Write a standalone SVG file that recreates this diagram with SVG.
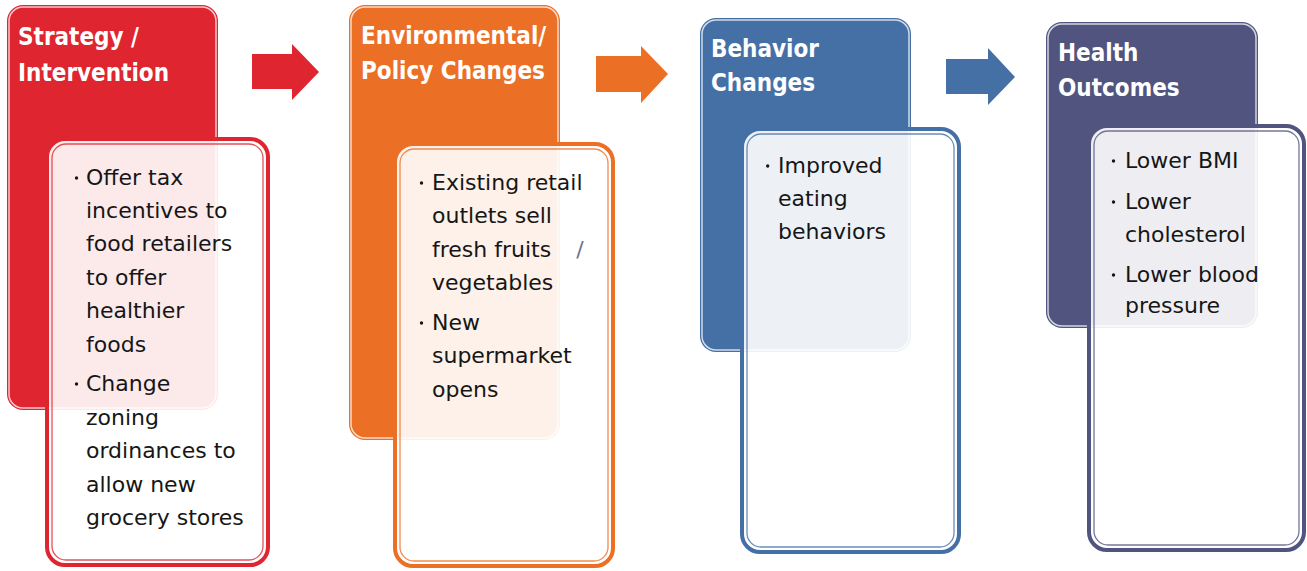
<svg xmlns="http://www.w3.org/2000/svg" width="1307" height="571" viewBox="0 0 1307 571">
<style>
.title{font-family:"DejaVu Sans Condensed","DejaVu Sans",sans-serif;font-weight:bold;font-size:24px;fill:#ffffff}
.body{font-family:"DejaVu Sans","Liberation Sans",sans-serif;font-size:22px;fill:#161616}
.panel{fill:#ffffff;fill-opacity:0.9}
.hl{fill:none;stroke:#ffffff;stroke-opacity:0.75;stroke-width:1.5}
.dot{fill:#161616}
.red{fill:#DF2530}.orange{fill:#EC6F26}.blue{fill:#4570A6}.purple{fill:#51547F}
.sred{stroke:#DF2530}.sorange{stroke:#EC6F26}.sblue{stroke:#4570A6}.spurple{stroke:#51547F}
.outer{fill:none;stroke-width:4}
.inner{fill:none;stroke-width:1.3;stroke-opacity:0.8}
</style>
<rect width="1307" height="571" fill="#ffffff"/>

<g id="node-strategy">
  <rect x="7" y="5" width="211" height="405" rx="16" class="red"/>
  <rect x="9" y="7" width="207" height="401" rx="14" class="hl"/>
  <text class="title" x="18" y="45">Strategy /</text>
  <text class="title" x="18" y="81">Intervention</text>
  <rect x="47" y="139" width="221" height="426" rx="18" class="panel"/>
  <rect x="47" y="139" width="221" height="426" rx="18" class="outer sred"/>
  <rect x="52" y="144" width="211" height="416" rx="14" class="inner sred"/>
  <circle class="dot" cx="76.5" cy="178" r="1.7"/>
  <circle class="dot" cx="76.5" cy="384" r="1.7"/>
  <g class="body">
    <text x="86" y="185">Offer tax</text>
    <text x="86" y="218">incentives to</text>
    <text x="86" y="251">food retailers</text>
    <text x="86" y="285">to offer</text>
    <text x="86" y="318">healthier</text>
    <text x="86" y="352">foods</text>
    <text x="86" y="391">Change</text>
    <text x="86" y="425">zoning</text>
    <text x="86" y="458">ordinances to</text>
    <text x="86" y="492">allow new</text>
    <text x="86" y="525">grocery stores</text>
  </g>
</g>

<g id="node-environmental">
  <rect x="349" y="5" width="211" height="435" rx="16" class="orange"/>
  <rect x="351" y="7" width="207" height="431" rx="14" class="hl"/>
  <text class="title" x="361" y="44">Environmental/</text>
  <text class="title" x="361" y="79">Policy Changes</text>
  <rect x="395" y="144" width="218" height="422" rx="18" class="panel"/>
  <rect x="395" y="144" width="218" height="422" rx="18" class="outer sorange"/>
  <rect x="400" y="149" width="208" height="412" rx="14" class="inner sorange"/>
  <circle class="dot" cx="421.5" cy="183" r="1.7"/>
  <circle class="dot" cx="421.5" cy="323" r="1.7"/>
  <g class="body">
    <text x="432" y="190">Existing retail</text>
    <text x="432" y="223">outlets sell</text>
    <text x="432" y="257">fresh fruits <tspan dx="18" fill="#6a7590">/</tspan></text>
    <text x="432" y="290">vegetables</text>
    <text x="432" y="330">New</text>
    <text x="432" y="363">supermarket</text>
    <text x="432" y="397">opens</text>
  </g>
</g>

<g id="node-behavior">
  <rect x="700" y="18" width="211" height="334" rx="16" class="blue"/>
  <rect x="702" y="20" width="207" height="330" rx="14" class="hl"/>
  <text class="title" x="711" y="57">Behavior</text>
  <text class="title" x="711" y="91">Changes</text>
  <rect x="742" y="129" width="217" height="423" rx="18" class="panel"/>
  <rect x="742" y="129" width="217" height="423" rx="18" class="outer sblue"/>
  <rect x="747" y="134" width="207" height="413" rx="14" class="inner sblue"/>
  <circle class="dot" cx="767.7" cy="166" r="1.7"/>
  <g class="body">
    <text x="778" y="173">Improved</text>
    <text x="778" y="206">eating</text>
    <text x="778" y="239">behaviors</text>
  </g>
</g>

<g id="node-health">
  <rect x="1046" y="22" width="212" height="306" rx="16" class="purple"/>
  <rect x="1048" y="24" width="208" height="302" rx="14" class="hl"/>
  <text class="title" x="1058" y="61">Health</text>
  <text class="title" x="1058" y="96">Outcomes</text>
  <rect x="1089" y="126" width="215" height="424" rx="18" class="panel"/>
  <rect x="1089" y="126" width="215" height="424" rx="18" class="outer spurple"/>
  <rect x="1094" y="131" width="205" height="414" rx="14" class="inner spurple"/>
  <circle class="dot" cx="1113.5" cy="161" r="1.7"/>
  <circle class="dot" cx="1113.5" cy="202" r="1.7"/>
  <circle class="dot" cx="1113.5" cy="275" r="1.7"/>
  <g class="body">
    <text x="1125" y="168">Lower BMI</text>
    <text x="1125" y="209">Lower</text>
    <text x="1125" y="242">cholesterol</text>
    <text x="1125" y="282">Lower blood</text>
    <text x="1125" y="313">pressure</text>
  </g>
</g>

<g id="connectors">
  <polygon class="red" points="252,54 292,54 292,44 319,72 292,100 292,89 252,89"/>
  <polygon class="orange" points="596,56 641,56 641,46 668,74 641,103 641,92 596,92"/>
  <polygon class="blue" points="946,59 988,59 988,48 1015,77 988,105 988,94 946,94"/>
</g>
</svg>
